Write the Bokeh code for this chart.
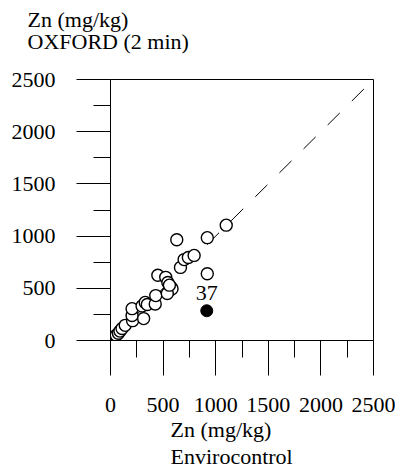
from bokeh.plotting import figure
from bokeh.models import Range1d, FixedTicker, Label, Title
from bokeh.embed import file_html
from bokeh.resources import INLINE

# Envirocontrol (x) vs OXFORD 2 min (y), Zn mg/kg
enviro = [55, 75, 90, 110, 140, 210, 205, 205, 300, 315, 330, 350, 425, 430,
          450, 525, 545, 560, 575, 585, 540, 560, 630, 665, 700, 740, 795,
          920, 920, 1100]
oxford = [50, 70, 90, 115, 145, 190, 240, 305, 330, 210, 365, 345, 350, 430,
          625, 605, 555, 480, 510, 495, 450, 530, 965, 700, 775, 795, 815,
          985, 640, 1105]
outlier_x = [915]
outlier_y = [285]
outlier_label = "37"
line_x = [0, 2500]
line_y = [0, 2500]
ticks = [0, 500, 1000, 1500, 2000, 2500]
minor = [250, 750, 1250, 1750, 2250]
y_title = ["Zn (mg/kg)", "OXFORD (2 min)"]
x_title = ["Zn (mg/kg)", "Envirocontrol"]

FONT = "Liberation Serif"
FS = "22px"

p = figure(width=399, height=470, output_backend="svg", toolbar_location=None,
           x_range=Range1d(0, 2500), y_range=Range1d(0, 2500),
           min_border_left=110, min_border_right=26, min_border_top=78,
           min_border_bottom=130)
p.background_fill_color = "white"
p.border_fill_color = "white"
p.outline_line_color = "black"
p.outline_line_width = 1
p.xgrid.visible = False
p.ygrid.visible = False

for ax in (p.xaxis[0], p.yaxis[0]):
    ax.ticker = FixedTicker(ticks=ticks, minor_ticks=minor)
    ax.axis_line_color = "black"
    ax.major_tick_line_color = "black"
    ax.minor_tick_line_color = "black"
    ax.major_tick_in = 0
    ax.minor_tick_in = 0
    ax.major_label_text_font = FONT
    ax.major_label_text_font_size = FS
    ax.major_label_text_color = "black"

p.yaxis[0].major_tick_out = 34
p.yaxis[0].minor_tick_out = 17
p.yaxis[0].major_label_standoff = 21
p.xaxis[0].major_tick_out = 35
p.xaxis[0].minor_tick_out = 17
p.xaxis[0].major_label_standoff = 22

p.line(line_x, line_y, line_color="black", line_width=1, line_dash="17 17")
p.scatter(enviro, oxford, size=12, marker="circle", fill_color="white",
          line_color="black", line_width=1.4)
p.scatter(outlier_x, outlier_y, size=12, marker="circle", fill_color="black",
          line_color="black")
p.add_layout(Label(x=outlier_x[0], y=outlier_y[0], text=outlier_label,
                   y_offset=18, text_align="center", text_baseline="middle",
                   text_font=FONT, text_font_size=FS, text_color="black"))

# y title above the frame (blank last line keeps it clear of the frame)
p.add_layout(Title(text=y_title[0] + "\n" + y_title[1] + "\n ", align="left",
                   offset=-83, standoff=9, text_line_height=0.86,
                   text_font=FONT, text_font_size=FS, text_font_style="normal",
                   text_color="black"), "above")

# x title below the axis
p.add_layout(Title(text=x_title[0], align="left", offset=60, standoff=0,
                   text_font=FONT, text_font_size=FS, text_font_style="normal",
                   text_color="black"), "below")
p.add_layout(Title(text=x_title[1], align="left", offset=60, standoff=0,
                   text_font=FONT, text_font_size=FS, text_font_style="normal",
                   text_color="black"), "below")

open("out.html", "w").write(file_html(p, INLINE))
